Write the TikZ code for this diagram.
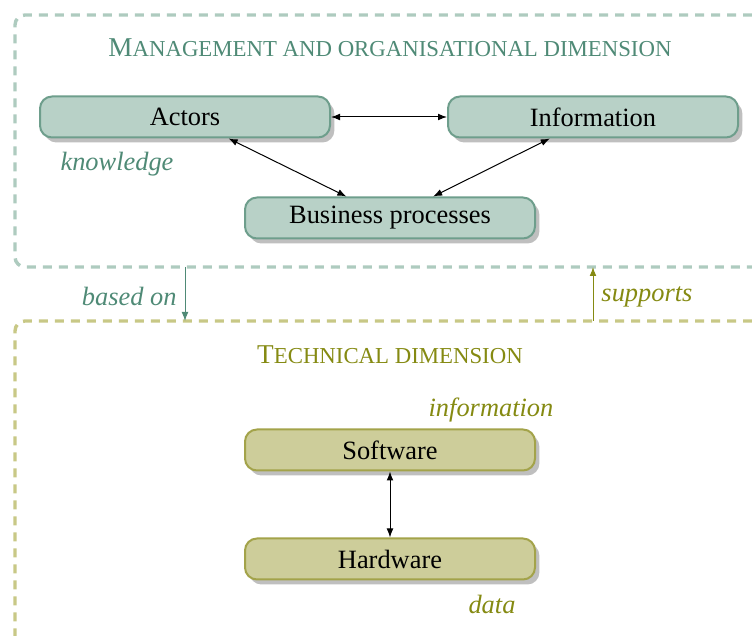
\documentclass[tikz,border=0pt]{standalone}
\usepackage{fontspec}
\setmainfont{Liberation Serif}
\usetikzlibrary{arrows.meta,shadows}
\definecolor{tealtxt}{HTML}{4F8A76}
\definecolor{tealfill}{HTML}{B8D1C7}
\definecolor{tealdraw}{HTML}{6E9E8C}
\definecolor{tealdash}{HTML}{AECBBF}
\definecolor{olivetxt}{HTML}{858A12}
\definecolor{olivefill}{HTML}{CDCD9A}
\definecolor{olivedraw}{HTML}{A3A34A}
\definecolor{olivedash}{HTML}{C8C886}
\newcommand{\fakesc}[2]{{\fontsize{13.6}{15}\selectfont #1}{\fontsize{11.4}{12}\selectfont #2}}
\begin{document}
\begin{tikzpicture}[x=0.5pt,y=-0.5pt,
  base/.style={font=\fontsize{13.2}{15}\selectfont},
  box/.style={base, rounded corners=6pt, line width=1pt, minimum width=145pt, minimum height=20.5pt, inner sep=0pt,
    drop shadow={shadow xshift=2.2pt, shadow yshift=-2.5pt, fill=black!25, opacity=1}},
  tealbox/.style={box, fill=tealfill, draw=tealdraw},
  olivebox/.style={box, fill=olivefill, draw=olivedraw},
  frame/.style={line width=1.7pt, dash pattern=on 4.5pt off 3.5pt, rounded corners=5pt},
  conn/.style={line width=0.5pt, {Latex[length=4.5pt,width=3.4pt]}-{Latex[length=4.5pt,width=3.4pt]}},
  lbl/.style={base, font=\fontsize{13.2}{15}\selectfont\itshape, inner sep=0pt},
  ttl/.style={inner sep=0pt}
]
\useasboundingbox (0,0) rectangle (752,636);
\clip (0,0) rectangle (752,636);
% frames
\draw[frame, draw=tealdash] (800,15) -- (15,15) -- (15,267) -- (800,267);
\draw[frame, draw=olivedash] (800,321) -- (15,321) -- (15,700);
\coordinate (topA) at (185,267);
\coordinate (botA) at (185,321);
\coordinate (topB) at (593,267);
\coordinate (botB) at (593,321);
% titles
\node[ttl, text=tealtxt] (t1) at (390,48) {\fakesc{M}{ANAGEMENT AND ORGANISATIONAL DIMENSION}};
\node[ttl, text=olivetxt] (t2) at (390,355) {\fakesc{T}{ECHNICAL DIMENSION}};
% nodes
\node[tealbox] (act) at (185,117) {Actors};
\node[tealbox] (inf) at (593,117) {Information};
\node[tealbox] (bus) at (390,218) {Business processes};
\node[olivebox] (sw) at (390,450) {Software};
\node[olivebox] (hw) at (390,559) {Hardware};
% labels
\node[lbl, text=tealtxt] (kn) at (117,164) {knowledge};
\node[lbl, text=olivetxt] (infl) at (491,410) {information};
\node[lbl, text=olivetxt] (dat) at (492,604) {data};
% connectors
\draw[conn] (act) -- (inf);
\draw[conn] (act) -- (bus);
\draw[conn] (inf) -- (bus);
\draw[conn] (sw) -- (hw);
\draw[line width=0.5pt, draw=tealtxt, -{Latex[length=4.5pt,width=3.4pt]}] (topA) -- node[lbl, text=tealtxt, left=4pt, yshift=-1.2pt] (bo) {based on} (botA);
\draw[line width=0.5pt, draw=olivetxt, -{Latex[length=4.5pt,width=3.4pt]}] (botB) -- node[lbl, text=olivetxt, right=4pt, yshift=-1.2pt] (sp) {supports} (topB);
\end{tikzpicture}
\end{document}
